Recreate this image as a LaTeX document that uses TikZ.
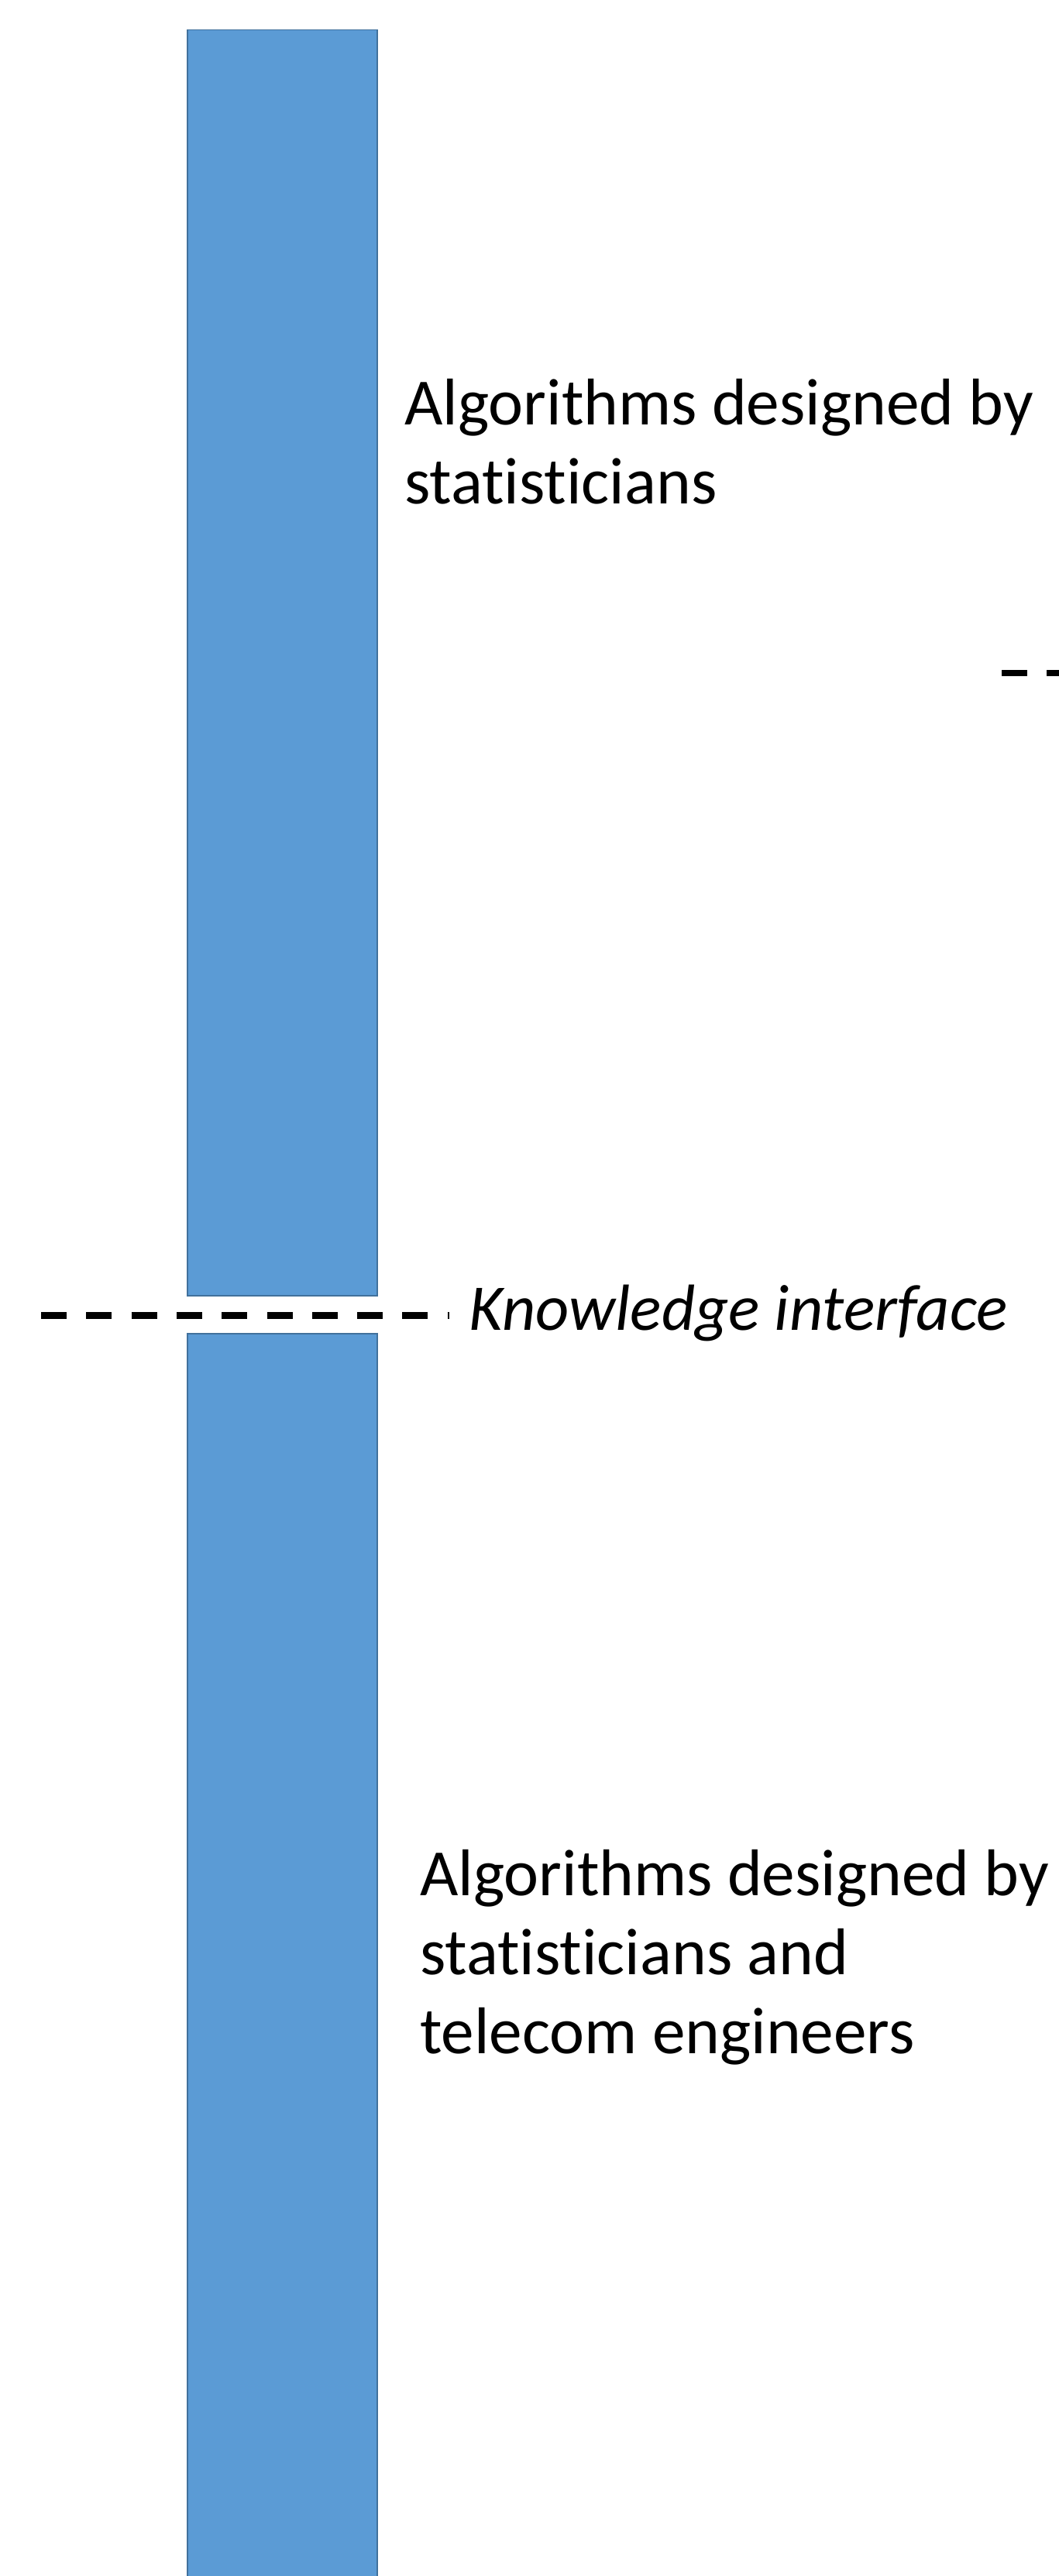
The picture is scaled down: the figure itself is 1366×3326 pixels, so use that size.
\documentclass[tikz,border=0pt]{standalone}
\usepackage{fontspec}
\setmainfont{Carlito}[Ligatures=NoCommon]
\definecolor{barfill}{HTML}{5B9BD5}
\definecolor{barline}{HTML}{41719C}
\begin{document}
\begin{tikzpicture}[x=1pt,y=-1pt,
  bar/.style={draw=barline,line width=1.5pt,fill=barfill,inner sep=0pt,
    minimum width=245pt,anchor=north west},
  caption/.style={inner sep=0pt,anchor=base west,align=left,
    font=\fontsize{85.3}{102}\selectfont},
  interface/.style={inner xsep=25pt,inner ysep=0pt,anchor=base west,
    font=\fontsize{84.2}{100}\selectfont\itshape},
  divider/.style={line width=8.3pt,dash pattern=on 33pt off 25.3pt}]
\useasboundingbox (0,0) rectangle (1366,3326);
\fill[white] (0,0) rectangle (1366,3326);

% the two stacked columns
\node[bar,minimum height=1634pt] (upper) at (241,38) {};
\node[bar,minimum height=1640pt] (lower) at (241,1721) {};

% captions beside the columns (placed by the baseline of their last line)
\node[caption] (uppertext) at (522,650) {Algorithms designed by\\statisticians};
\node[caption] (lowertext) at (542,2651) {Algorithms designed by\\statisticians and\\telecom engineers};

% knowledge interface divider
\node[interface] (kiface) at (580,1717) {Knowledge interface};
\coordinate (kstart) at (53,1698.5);
\draw[divider] (kstart) -- (kstart -| kiface.west);

% divider entering from the right edge
\coordinate (rstart) at (1293,869);
\coordinate (redge) at (1380,869);
\draw[divider] (rstart) -- (redge);
\end{tikzpicture}
\end{document}
